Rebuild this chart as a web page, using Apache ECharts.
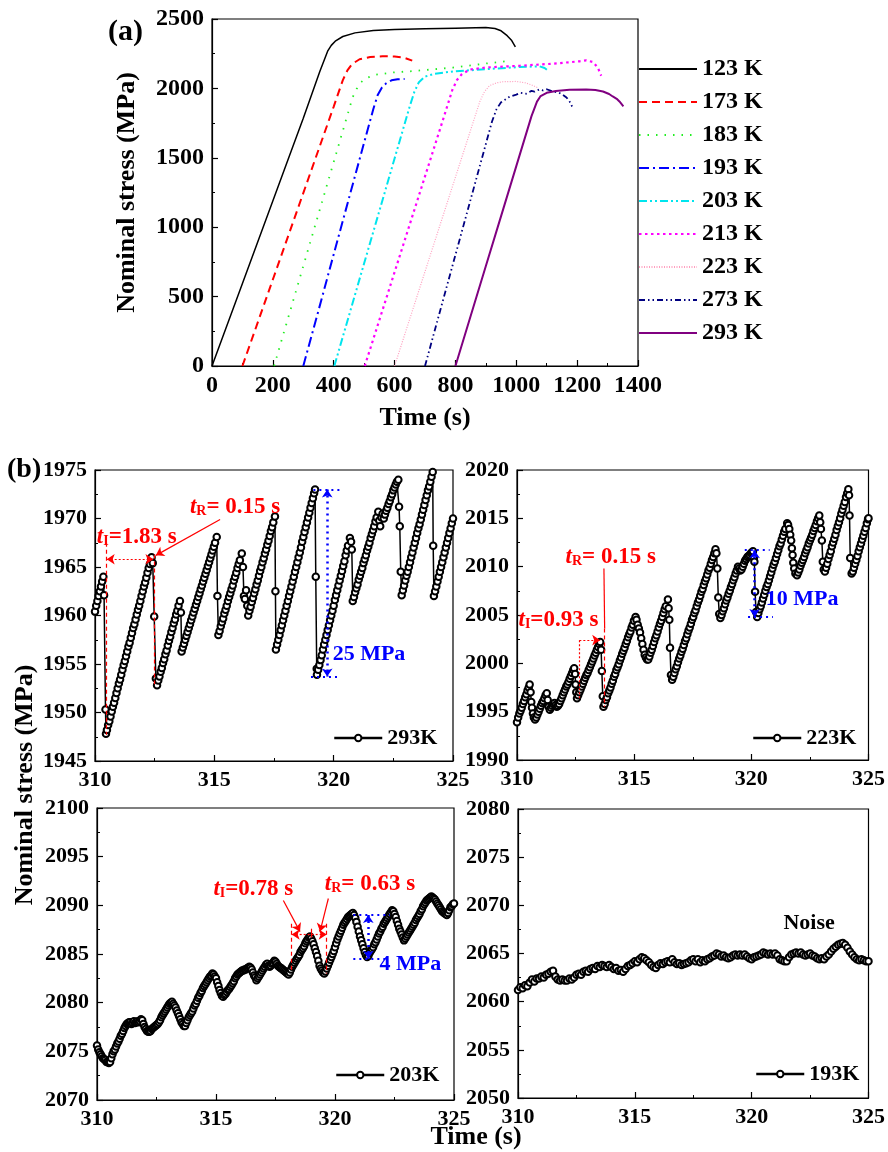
<!DOCTYPE html>
<html>
<head>
<meta charset="utf-8">
<script src="https://cdn.jsdelivr.net/npm/echarts@6/dist/echarts.min.js"></script>
<style>
html, body { margin: 0; padding: 0; background: #fff; }
#chart { width: 888px; height: 1152px; }
</style>
</head>
<body>
<div id="chart"></div>
<script>
// (a) nominal stress vs time, [time s, stress MPa]
var curve123 = [[0,0],[100,595],[185,1100],[250,1488],[300,1785],[354,2120],[380,2268],[392,2310],[405,2340],[430,2374],[470,2400],[530,2417],[600,2424],[700,2430],[800,2434],[900,2438],[930,2432],[950,2415],[970,2380],[985,2345],[997,2300]];
var curve173 = [[100,0],[200,623],[300,1246],[400,1869],[430,2060],[445,2130],[460,2175],[485,2210],[520,2226],[560,2232],[600,2230],[630,2222],[658,2200]];
var curve183 = [[204,0],[250,345],[300,720],[350,1095],[400,1470],[440,1770],[462,1935],[475,1995],[490,2045],[508,2075],[540,2099],[595,2115],[650,2123],[716,2135],[792,2150],[902,2180],[965,2195]];
var curve193 = [[300,0],[350,400],[400,805],[450,1208],[500,1610],[530,1850],[545,1955],[558,2005],[573,2038],[590,2058],[610,2066],[633,2067]];
var curve203 = [[402,0],[450,362],[500,740],[550,1117],[600,1495],[650,1872],[665,1975],[680,2045],[700,2085],[730,2105],[792,2122],[902,2139],[1011,2154],[1077,2159],[1093,2147],[1107,2123]];
var curve213 = [[502,0],[550,331],[600,676],[650,1021],[700,1366],[750,1711],[790,1990],[805,2060],[820,2100],[846,2135],[902,2151],[1011,2163],[1120,2178],[1208,2195],[1230,2202],[1252,2190],[1268,2150],[1279,2091]];
var curve223 = [[600,0],[650,340],[700,680],[750,1020],[800,1360],[850,1700],[880,1904],[895,1975],[912,2020],[935,2040],[956,2048],[1000,2050],[1030,2040],[1050,2025],[1071,2005]];
var curve273 = [[700,0],[750,400],[800,800],[850,1200],[900,1600],[920,1760],[935,1850],[950,1900],[978,1940],[1000,1955],[1015,1968],[1033,1962],[1050,1982],[1060,1976],[1075,1992],[1088,1985],[1100,1994],[1120,1978],[1140,1970],[1153,1954],[1165,1935],[1175,1906],[1186,1858]];
var curve293 = [[800,0],[850,360],[900,720],[950,1080],[1000,1440],[1050,1800],[1068,1905],[1080,1945],[1100,1968],[1130,1982],[1175,1990],[1230,1992],[1260,1988],[1285,1978],[1305,1960],[1317,1942],[1330,1925],[1339,1906],[1352,1870]];

// (b) close-ups, [time s, stress MPa]
var serr293 = [[310.00,1960.4],[310.05,1961.0],[310.10,1961.5],[310.15,1962.0],[310.20,1962.5],[310.25,1963.0],[310.30,1963.5],[310.35,1964.0],[310.38,1962.1],[310.44,1950.3],[310.46,1947.8],
[310.50,1948.2],[310.55,1948.7],[310.60,1949.1],[310.65,1949.6],[310.70,1950.1],[310.75,1950.6],[310.80,1951.0],[310.85,1951.5],[310.90,1952.0],[310.95,1952.5],[311.00,1953.0],[311.05,1953.4],[311.10,1953.9],[311.15,1954.4],[311.20,1954.9],[311.25,1955.3],[311.30,1955.8],[311.35,1956.3],[311.40,1956.8],[311.45,1957.2],[311.50,1957.7],[311.55,1958.2],[311.60,1958.7],[311.65,1959.1],[311.70,1959.6],[311.75,1960.1],[311.80,1960.6],[311.85,1961.0],[311.90,1961.5],[311.95,1962.0],[312.00,1962.5],[312.05,1963.0],[312.10,1963.4],[312.15,1963.9],[312.20,1964.4],[312.25,1964.9],[312.30,1965.3],[312.35,1965.8],[312.37,1966.0],
[312.42,1965.4],[312.48,1959.9],[312.55,1953.5],[312.60,1952.8],
[312.65,1953.3],[312.70,1953.7],[312.75,1954.2],[312.80,1954.6],[312.85,1955.1],[312.90,1955.5],[312.95,1956.0],[313.00,1956.4],[313.05,1956.9],[313.10,1957.4],[313.15,1957.8],[313.20,1958.3],[313.25,1958.7],[313.30,1959.2],[313.35,1959.6],[313.40,1960.1],[313.45,1960.5],[313.50,1961.0],[313.56,1961.5],
[313.60,1960.3],[313.63,1956.3],
[313.68,1956.7],[313.73,1957.1],[313.78,1957.5],[313.83,1957.9],[313.88,1958.3],[313.93,1958.7],[313.98,1959.1],[314.03,1959.5],[314.08,1959.9],[314.13,1960.3],[314.18,1960.7],[314.23,1961.1],[314.28,1961.5],[314.33,1961.9],[314.38,1962.3],[314.43,1962.7],[314.48,1963.1],[314.53,1963.5],[314.58,1963.9],[314.63,1964.3],[314.68,1964.7],[314.73,1965.1],[314.78,1965.5],[314.83,1965.9],[314.88,1966.3],[314.93,1966.7],[314.98,1967.1],[315.03,1967.5],[315.10,1968.1],
[315.13,1962.0],[315.17,1958.0],
[315.22,1958.4],[315.27,1958.9],[315.32,1959.3],[315.37,1959.7],[315.42,1960.2],[315.47,1960.6],[315.52,1961.0],[315.57,1961.5],[315.62,1961.9],[315.67,1962.3],[315.72,1962.7],[315.77,1963.1],[315.82,1963.6],[315.87,1964.0],[315.92,1964.4],[315.97,1964.9],[316.02,1965.3],[316.07,1965.7],[316.15,1966.4],
[316.20,1965.0],[316.24,1962.0],[316.28,1961.7],[316.33,1962.6],[316.38,1961.0],[316.42,1960.0],
[316.47,1960.5],[316.52,1960.9],[316.57,1961.4],[316.62,1961.8],[316.67,1962.3],[316.72,1962.7],[316.77,1963.2],[316.82,1963.6],[316.87,1964.1],[316.92,1964.6],[316.97,1965.0],[317.02,1965.5],[317.07,1965.9],[317.12,1966.4],[317.17,1966.8],[317.22,1967.3],[317.27,1967.7],[317.32,1968.2],[317.37,1968.7],[317.42,1969.1],[317.47,1969.6],[317.54,1970.2],
[317.56,1962.5],[317.58,1956.5],
[317.63,1957.0],[317.68,1957.5],[317.73,1958.0],[317.78,1958.5],[317.83,1959.0],[317.88,1959.5],[317.93,1960.0],[317.98,1960.5],[318.03,1961.0],[318.08,1961.5],[318.13,1962.0],[318.18,1962.5],[318.23,1963.0],[318.28,1963.5],[318.33,1964.0],[318.38,1964.5],[318.43,1965.0],[318.48,1965.5],[318.53,1966.0],[318.58,1966.5],[318.63,1967.0],[318.68,1967.6],[318.73,1968.1],[318.78,1968.6],[318.83,1969.1],[318.88,1969.6],[318.93,1970.1],[318.98,1970.6],[319.03,1971.1],[319.08,1971.6],[319.13,1972.1],[319.18,1972.6],[319.22,1973.0],
[319.25,1964.0],[319.29,1954.5],[319.30,1953.9],
[319.35,1954.4],[319.40,1954.9],[319.45,1955.4],[319.50,1955.9],[319.55,1956.5],[319.60,1957.0],[319.65,1957.5],[319.70,1958.0],[319.75,1958.5],[319.80,1959.0],[319.85,1959.5],[319.90,1960.0],[319.95,1960.5],[320.00,1961.0],[320.05,1961.6],[320.10,1962.1],[320.15,1962.6],[320.20,1963.1],[320.25,1963.6],[320.30,1964.1],[320.35,1964.6],[320.40,1965.1],[320.45,1965.6],[320.50,1966.2],[320.55,1966.7],[320.60,1967.2],[320.68,1968.0],
[320.73,1967.6],[320.76,1966.8],[320.80,1961.5],
[320.85,1961.9],[320.90,1962.4],[320.95,1962.8],[321.00,1963.2],[321.05,1963.7],[321.10,1964.1],[321.15,1964.5],[321.20,1964.9],[321.25,1965.4],[321.30,1965.8],[321.35,1966.2],[321.40,1966.7],[321.45,1967.1],[321.50,1967.5],[321.55,1968.0],[321.60,1968.4],[321.65,1968.8],[321.70,1969.2],[321.75,1969.7],[321.80,1970.1],[321.87,1970.7],
[321.91,1969.8],[321.95,1969.2],[322.00,1970.1],[322.05,1970.5],[322.10,1970.0],[322.15,1970.4],[322.20,1970.8],[322.25,1971.1],[322.30,1971.5],[322.35,1971.8],[322.40,1972.2],[322.45,1972.5],[322.50,1972.9],[322.55,1973.2],[322.60,1973.5],[322.65,1973.8],[322.71,1974.0],
[322.74,1971.2],[322.77,1969.2],[322.81,1964.5],[322.85,1962.1],
[322.90,1962.6],[322.95,1963.1],[323.00,1963.6],[323.05,1964.1],[323.10,1964.5],[323.15,1965.0],[323.20,1965.5],[323.25,1966.0],[323.30,1966.5],[323.35,1967.0],[323.40,1967.5],[323.45,1968.0],[323.50,1968.5],[323.55,1969.0],[323.60,1969.4],[323.65,1969.9],[323.70,1970.4],[323.75,1970.9],[323.80,1971.4],[323.85,1971.9],[323.90,1972.4],[323.95,1972.9],[324.00,1973.3],[324.05,1973.8],[324.10,1974.3],[324.15,1974.8],
[324.17,1967.2],[324.20,1962.0],
[324.25,1962.5],[324.30,1963.0],[324.35,1963.5],[324.40,1964.0],[324.45,1964.5],[324.50,1965.0],[324.55,1965.5],[324.60,1966.0],[324.65,1966.5],[324.70,1967.0],[324.75,1967.5],[324.80,1968.0],[324.85,1968.5],[324.90,1969.0],[324.95,1969.5],[325.00,1970.0]];

var serr223 = [[310.00,1993.9],[310.05,1994.4],[310.10,1994.8],[310.15,1995.1],[310.20,1995.4],[310.25,1995.8],[310.30,1996.1],[310.35,1996.5],[310.40,1996.8],[310.45,1997.2],[310.50,1997.5],[310.54,1997.8],
[310.58,1997.0],[310.61,1996.0],[310.64,1995.4],[310.68,1994.8],[310.72,1994.4],[310.77,1994.2],
[310.82,1994.4],[310.87,1994.7],[310.92,1995.0],[310.97,1995.3],[311.02,1995.6],[311.07,1995.9],[311.12,1996.1],[311.17,1996.4],[311.22,1996.7],[311.27,1996.9],
[311.31,1996.2],[311.35,1995.5],[311.40,1995.2],[311.45,1995.4],[311.50,1995.6],[311.55,1995.8],[311.60,1995.9],[311.65,1995.7],[311.70,1995.5],[311.75,1995.6],[311.80,1995.8],
[311.85,1996.1],[311.90,1996.4],[311.95,1996.7],[312.00,1997.0],[312.05,1997.3],[312.10,1997.6],[312.15,1997.8],[312.20,1998.1],[312.25,1998.4],[312.30,1998.7],[312.35,1999.0],[312.40,1999.3],[312.44,1999.5],
[312.48,1998.9],[312.50,1997.8],[312.53,1997.0],[312.56,1996.4],
[312.61,1996.7],[312.66,1997.0],[312.71,1997.3],[312.76,1997.6],[312.81,1997.9],[312.86,1998.2],[312.91,1998.5],[312.96,1998.8],[313.01,1999.0],[313.06,1999.3],[313.11,1999.6],[313.16,1999.9],[313.21,2000.2],[313.26,2000.5],[313.31,2000.8],[313.36,2001.1],[313.41,2001.4],[313.46,2001.7],[313.51,2002.0],[313.55,2002.2],
[313.59,2001.4],[313.62,1999.2],[313.66,1996.6],[313.69,1995.5],
[313.74,1995.8],[313.79,1996.2],[313.84,1996.5],[313.89,1996.9],[313.94,1997.2],[313.99,1997.5],[314.04,1997.9],[314.09,1998.2],[314.14,1998.6],[314.19,1998.9],[314.24,1999.3],[314.29,1999.6],[314.34,1999.9],[314.39,2000.3],[314.44,2000.6],[314.49,2001.0],[314.54,2001.3],[314.59,2001.6],[314.64,2002.0],[314.69,2002.3],[314.74,2002.7],[314.79,2003.0],[314.84,2003.3],[314.89,2003.7],[314.94,2004.0],[314.99,2004.4],[315.06,2004.8],
[315.10,2004.5],[315.15,2004.0],[315.20,2003.6],[315.25,2003.2],[315.30,2002.6],[315.35,2002.0],[315.40,2001.4],[315.45,2000.9],[315.50,2000.6],[315.55,2000.4],[315.60,2000.4],[315.65,2000.7],
[315.70,2001.1],[315.75,2001.4],[315.80,2001.8],[315.85,2002.2],[315.90,2002.6],[315.95,2002.9],[316.00,2003.3],[316.05,2003.7],[316.10,2004.1],[316.15,2004.4],[316.20,2004.8],[316.25,2005.2],[316.30,2005.6],[316.35,2005.9],[316.44,2006.6],
[316.47,2005.7],[316.50,2004.5],[316.53,2001.6],[316.57,1998.8],[316.62,1998.3],
[316.67,1998.6],[316.72,1999.0],[316.77,1999.4],[316.82,1999.7],[316.87,2000.1],[316.92,2000.5],[316.97,2000.8],[317.02,2001.2],[317.07,2001.5],[317.12,2001.9],[317.17,2002.3],[317.22,2002.6],[317.27,2003.0],[317.32,2003.4],[317.37,2003.7],[317.42,2004.1],[317.47,2004.5],[317.52,2004.8],[317.57,2005.2],[317.62,2005.5],[317.67,2005.9],[317.72,2006.3],[317.77,2006.6],[317.82,2007.0],[317.87,2007.4],[317.92,2007.7],[317.97,2008.1],[318.02,2008.5],[318.07,2008.8],[318.12,2009.2],[318.17,2009.6],[318.22,2009.9],[318.27,2010.3],[318.32,2010.7],[318.37,2011.0],[318.42,2011.4],[318.47,2011.8],
[318.51,2011.4],[318.55,2009.8],[318.59,2006.8],[318.63,2005.1],[318.68,2004.7],
[318.73,2005.0],[318.78,2005.4],[318.83,2005.7],[318.88,2006.1],[318.93,2006.5],[318.98,2006.8],[319.03,2007.2],[319.08,2007.5],[319.13,2007.9],[319.18,2008.2],[319.23,2008.6],[319.28,2008.9],[319.33,2009.3],[319.38,2009.6],[319.43,2010.0],
[319.48,2009.8],[319.53,2009.6],[319.58,2009.7],[319.63,2010.0],[319.68,2010.3],[319.73,2010.6],[319.78,2010.8],[319.83,2011.0],[319.88,2011.1],[319.93,2011.2],[319.98,2011.4],[320.03,2011.5],[320.07,2011.6],
[320.11,2010.9],[320.13,2010.5],[320.16,2007.4],[320.20,2005.3],[320.25,2004.8],
[320.30,2005.2],[320.35,2005.6],[320.40,2005.9],[320.45,2006.3],[320.50,2006.7],[320.55,2007.1],[320.60,2007.5],[320.65,2007.9],[320.70,2008.2],[320.75,2008.6],[320.80,2009.0],[320.85,2009.4],[320.90,2009.8],[320.95,2010.2],[321.00,2010.5],[321.05,2010.9],[321.10,2011.3],[321.15,2011.7],[321.20,2012.1],[321.25,2012.4],[321.30,2012.8],[321.35,2013.2],[321.40,2013.6],[321.45,2013.9],[321.53,2014.5],
[321.57,2014.3],[321.62,2013.9],[321.66,2013.3],[321.70,2012.7],[321.73,2011.9],[321.76,2011.2],[321.79,2010.4],[321.83,2009.8],[321.88,2009.3],[321.95,2009.1],
[322.00,2009.4],[322.05,2009.7],[322.10,2010.1],[322.15,2010.4],[322.20,2010.7],[322.25,2011.0],[322.30,2011.4],[322.35,2011.7],[322.40,2012.0],[322.45,2012.4],[322.50,2012.7],[322.55,2013.0],[322.60,2013.3],[322.65,2013.7],[322.70,2014.0],[322.75,2014.3],[322.80,2014.7],[322.85,2015.0],[322.90,2015.3],
[322.94,2014.6],[322.97,2013.9],[323.01,2012.7],[323.05,2010.5],[323.09,2009.7],[323.14,2009.5],
[323.19,2009.9],[323.24,2010.3],[323.29,2010.8],[323.34,2011.2],[323.39,2011.6],[323.44,2012.1],[323.49,2012.5],[323.54,2012.9],[323.59,2013.3],[323.64,2013.8],[323.69,2014.2],[323.74,2014.6],[323.79,2015.0],[323.84,2015.5],[323.89,2015.9],[323.94,2016.3],[323.99,2016.7],[324.04,2017.2],[324.09,2017.6],[324.14,2018.0],
[324.17,2017.4],[324.19,2015.3],[324.22,2010.9],[324.28,2009.3],
[324.33,2009.5],[324.38,2009.9],[324.43,2010.3],[324.48,2010.7],[324.53,2011.1],[324.58,2011.6],[324.63,2012.0],[324.68,2012.4],[324.73,2012.8],[324.78,2013.2],[324.83,2013.6],[324.88,2014.0],[324.93,2014.5],[324.98,2014.9],[325.00,2015.0]];

var serr203 = [[310.00,2075.6],[310.05,2075.2],[310.10,2074.9],[310.15,2074.7],[310.20,2074.5],[310.25,2074.3],[310.30,2074.2],[310.35,2074.1],[310.40,2073.9],[310.45,2073.9],[310.50,2073.8],[310.55,2073.9],[310.60,2074.3],[310.65,2074.7],[310.70,2075.0],[310.75,2075.2],[310.80,2075.5],[310.85,2075.8],[310.90,2076.0],[310.95,2076.3],[311.00,2076.6],[311.05,2076.8],[311.10,2077.1],[311.15,2077.4],[311.20,2077.6],[311.25,2077.8],[311.30,2077.9],[311.35,2078.0],[311.40,2078.0],[311.45,2077.8],[311.50,2077.9],[311.55,2078.1],[311.60,2077.9],[311.65,2078.0],[311.70,2078.1],[311.75,2078.0],[311.80,2078.1],[311.85,2078.3],[311.90,2078.2],[311.95,2077.8],
[312.00,2077.5],[312.05,2077.3],[312.10,2077.1],[312.15,2077.0],[312.20,2077.0],[312.25,2077.1],[312.30,2077.3],[312.35,2077.4],[312.40,2077.5],[312.45,2077.6],[312.50,2077.7],[312.55,2077.8],[312.60,2078.0],[312.65,2078.2],[312.70,2078.5],[312.75,2078.7],[312.80,2078.9],[312.85,2079.1],[312.90,2079.3],[312.95,2079.5],[313.00,2079.7],[313.05,2079.9],[313.10,2080.0],[313.15,2080.1],[313.20,2079.9],[313.25,2079.7],[313.30,2079.5],[313.35,2079.2],[313.40,2078.9],[313.45,2078.6],[313.50,2078.3],[313.55,2078.0],[313.60,2077.8],[313.65,2077.6],[313.70,2077.6],[313.75,2077.9],[313.80,2078.2],[313.85,2078.5],[313.90,2078.7],[313.95,2078.9],
[314.00,2079.1],[314.05,2079.4],[314.10,2079.7],[314.15,2079.9],[314.20,2080.2],[314.25,2080.5],[314.30,2080.7],[314.35,2081.0],[314.40,2081.2],[314.45,2081.5],[314.50,2081.7],[314.55,2081.9],[314.60,2082.1],[314.65,2082.3],[314.70,2082.5],[314.75,2082.7],[314.80,2082.8],[314.85,2083.0],[314.90,2082.9],[314.95,2082.7],[315.00,2082.5],[315.05,2082.1],[315.10,2081.7],[315.15,2081.3],[315.20,2081.0],[315.25,2080.7],[315.30,2080.6],[315.35,2080.8],[315.40,2080.9],[315.45,2081.1],[315.50,2081.3],[315.55,2081.4],[315.60,2081.6],[315.65,2081.8],[315.70,2082.0],[315.75,2082.2],[315.80,2082.5],[315.85,2082.7],[315.90,2082.9],[315.95,2083.0],
[316.00,2083.1],[316.05,2083.2],[316.10,2083.3],[316.15,2083.3],[316.20,2083.4],[316.25,2083.4],[316.30,2083.5],[316.35,2083.6],[316.40,2083.7],[316.45,2083.6],[316.50,2083.4],[316.55,2083.1],[316.60,2082.8],[316.65,2082.6],[316.70,2082.3],[316.75,2082.5],[316.80,2082.7],[316.85,2082.9],[316.90,2083.1],[316.95,2083.3],[317.00,2083.5],[317.05,2083.7],[317.10,2083.9],[317.15,2084.0],[317.20,2083.8],[317.25,2083.7],[317.30,2083.8],[317.35,2084.0],[317.40,2084.1],[317.45,2084.3],[317.50,2084.2],[317.55,2084.0],[317.60,2083.8],[317.65,2083.7],[317.70,2083.6],[317.75,2083.5],[317.80,2083.4],[317.85,2083.3],[317.90,2083.2],[317.95,2083.1],
[318.00,2083.0],[318.05,2082.9],[318.10,2083.1],[318.15,2083.4],[318.20,2083.7],[318.25,2083.9],[318.30,2084.1],[318.35,2084.3],[318.40,2084.5],[318.45,2084.7],[318.50,2084.9],[318.55,2085.2],[318.60,2085.4],[318.65,2085.6],[318.70,2085.8],[318.75,2086.1],[318.80,2086.3],[318.85,2086.5],[318.90,2086.7],[318.95,2086.8],[319.00,2086.6],[319.05,2086.3],[319.10,2086.0],[319.15,2085.6],[319.20,2085.2],[319.25,2084.8],[319.30,2084.3],[319.35,2083.8],[319.40,2083.5],[319.45,2083.3],[319.50,2083.1],[319.55,2083.0],[319.60,2083.2],[319.65,2083.5],[319.70,2083.8],[319.75,2084.1],[319.80,2084.4],[319.85,2084.7],[319.90,2085.0],[319.95,2085.3],
[320.00,2085.7],[320.05,2086.1],[320.10,2086.5],[320.15,2086.8],[320.20,2087.1],[320.25,2087.4],[320.30,2087.7],[320.35,2088.0],[320.40,2088.2],[320.45,2088.4],[320.50,2088.6],[320.55,2088.8],[320.60,2088.9],[320.65,2089.0],[320.70,2089.1],[320.75,2089.2],[320.80,2089.0],[320.85,2088.7],[320.90,2088.3],[320.95,2087.8],[321.00,2087.3],[321.05,2086.8],[321.10,2086.4],[321.15,2086.0],[321.20,2085.6],[321.25,2085.2],[321.30,2084.9],[321.35,2084.7],[321.40,2084.8],[321.45,2085.1],[321.50,2085.3],[321.55,2085.5],[321.60,2085.7],[321.65,2086.0],[321.70,2086.2],[321.75,2086.5],[321.80,2086.8],[321.85,2087.1],[321.90,2087.3],[321.95,2087.6],
[322.00,2087.8],[322.05,2088.1],[322.10,2088.3],[322.15,2088.5],[322.20,2088.7],[322.25,2088.9],[322.30,2089.1],[322.35,2089.3],[322.40,2089.5],[322.45,2089.4],[322.50,2089.1],[322.55,2088.8],[322.60,2088.4],[322.65,2088.0],[322.70,2087.6],[322.75,2087.3],[322.80,2087.0],[322.85,2086.7],[322.90,2086.4],[322.95,2086.6],[323.00,2086.8],[323.05,2087.0],[323.10,2087.2],[323.15,2087.4],[323.20,2087.6],[323.25,2087.8],[323.30,2088.0],[323.35,2088.2],[323.40,2088.5],[323.45,2088.7],[323.50,2088.9],[323.55,2089.1],[323.60,2089.4],[323.65,2089.6],[323.70,2089.9],[323.75,2090.1],[323.80,2090.3],[323.85,2090.5],[323.90,2090.6],[323.95,2090.7],
[324.00,2090.8],[324.05,2090.9],[324.10,2090.8],[324.15,2090.7],[324.20,2090.6],[324.25,2090.4],[324.30,2090.2],[324.35,2090.0],[324.40,2089.8],[324.45,2089.6],[324.50,2089.4],[324.55,2089.3],[324.60,2089.2],[324.65,2089.1],[324.70,2089.0],[324.75,2089.2],[324.80,2089.5],[324.85,2089.8],[324.90,2089.9],[324.95,2090.1],[325.00,2090.2]];

var serr193 = [[310.0,2061.2],[310.1,2061.5],[310.2,2061.4],[310.3,2061.7],[310.4,2061.6],[310.5,2062.0],[310.6,2062.3],[310.7,2062.1],[310.8,2062.4],[310.9,2062.4],[311.0,2062.6],[311.1,2062.5],[311.2,2062.8],[311.3,2062.9],[311.4,2063.1],[311.5,2063.2],[311.6,2062.6],[311.7,2062.3],[311.8,2062.2],[311.9,2062.3],
[312.0,2062.2],[312.1,2062.2],[312.2,2062.4],[312.3,2062.3],[312.4,2062.5],[312.5,2062.8],[312.6,2062.9],[312.7,2062.8],[312.8,2063.1],[312.9,2063.2],[313.0,2063.1],[313.1,2063.4],[313.2,2063.5],[313.3,2063.4],[313.4,2063.7],[313.5,2063.6],[313.6,2063.8],[313.7,2063.7],[313.8,2063.6],[313.9,2063.8],
[314.0,2063.6],[314.1,2063.4],[314.2,2063.5],[314.3,2063.2],[314.4,2063.3],[314.5,2063.1],[314.6,2063.4],[314.7,2063.7],[314.8,2063.8],[314.9,2064.0],[315.0,2064.2],[315.1,2064.1],[315.2,2064.4],[315.3,2064.6],[315.4,2064.5],[315.5,2064.3],[315.6,2064.1],[315.7,2063.8],[315.8,2063.6],[315.9,2063.5],
[316.0,2063.8],[316.1,2064.0],[316.2,2063.9],[316.3,2064.1],[316.4,2064.2],[316.5,2064.1],[316.6,2064.4],[316.7,2064.1],[316.8,2063.9],[316.9,2064.0],[317.0,2063.8],[317.1,2063.9],[317.2,2064.0],[317.3,2064.1],[317.4,2064.3],[317.5,2064.4],[317.6,2064.2],[317.7,2064.4],[317.8,2064.1],[317.9,2064.3],
[318.0,2064.2],[318.1,2064.4],[318.2,2064.5],[318.3,2064.7],[318.4,2064.8],[318.5,2065.0],[318.6,2064.9],[318.7,2064.7],[318.8,2064.8],[318.9,2064.6],[319.0,2064.5],[319.1,2064.6],[319.2,2064.8],[319.3,2064.9],[319.4,2064.8],[319.5,2064.9],[319.6,2064.8],[319.7,2064.9],[319.8,2064.7],[319.9,2064.5],
[320.0,2064.4],[320.1,2064.6],[320.2,2064.7],[320.3,2064.8],[320.4,2064.9],[320.5,2065.1],[320.6,2065.0],[320.7,2064.9],[320.8,2065.0],[320.9,2064.9],[321.0,2065.0],[321.1,2064.8],[321.2,2064.4],[321.3,2064.3],[321.4,2064.2],[321.5,2064.2],[321.6,2064.6],[321.7,2064.9],[321.8,2065.0],[321.9,2065.1],
[322.0,2065.0],[322.1,2065.1],[322.2,2064.9],[322.3,2064.8],[322.4,2064.9],[322.5,2065.0],[322.6,2064.8],[322.7,2064.7],[322.8,2064.5],[322.9,2064.4],[323.0,2064.5],[323.1,2064.4],[323.2,2064.7],[323.3,2064.9],[323.4,2065.2],[323.5,2065.5],[323.6,2065.7],[323.7,2065.9],[323.8,2066.0],[323.9,2066.1],
[324.0,2065.9],[324.1,2065.6],[324.2,2065.2],[324.3,2064.9],[324.4,2064.6],[324.5,2064.4],[324.6,2064.3],[324.7,2064.4],[324.8,2064.3],[324.9,2064.2],[325.0,2064.2]];

var FONT = "'Liberation Serif', 'Times New Roman', serif";
var RED = '#ff0000', BLUE = '#0000ff';

// annotation helpers (data coordinates)
function seg(a, b, color, dash, width, s0, s1) {
    return [
        { coord: a, symbol: s0 || 'none', lineStyle: { color: color, type: dash, width: width } },
        { coord: b, symbol: s1 || 'none' }
    ];
}
function richFor(color) {
    return {
        i: { fontStyle: 'italic', fontWeight: 'bold', fontSize: 23, fontFamily: FONT, color: color },
        s: { fontWeight: 'bold', fontSize: 14, lineHeight: 14, fontFamily: FONT, color: color, verticalAlign: 'bottom', padding: [16, 0, 0, 0] },
        n: { fontWeight: 'bold', fontSize: 23, fontFamily: FONT, color: color }
    };
}
function note(pos, text, color, size) {
    return {
        coord: pos, symbol: 'circle', symbolSize: 0, itemStyle: { color: 'rgba(0,0,0,0)' },
        label: { show: true, position: 'inside', formatter: text, color: color, fontFamily: FONT, fontWeight: 'bold', fontSize: size || 22, rich: richFor(color) }
    };
}

var lines293 = [
    seg([310.49, 1967.5], [310.49, 1947.7], RED, [4, 3], 1.2),
    seg([310.49, 1965.8], [312.45, 1965.8], RED, [2, 2], 1.2, 'arrow', 'arrow'),
    seg([312.49, 1966.3], [312.49, 1952.9], RED, [4, 3], 1.2),
    seg([315.24, 1969.9], [312.55, 1966.2], RED, 'solid', 1.2, 'none', 'arrow'),
    seg([319.15, 1973.0], [320.27, 1973.0], BLUE, [2, 4], 2),
    seg([319.05, 1953.7], [320.15, 1953.7], BLUE, [2, 4], 2),
    seg([319.73, 1973.0], [319.73, 1953.7], BLUE, [2, 4], 2.5, 'arrow', 'arrow')
];
var notes293 = [
    note([311.75, 1968.1], '{i|t}{s|I}{n|=1.83 s}', RED),
    note([315.87, 1971.2], '{i|t}{s|R}{n|= 0.15 s}', RED),
    note([321.48, 1956.0], '25 MPa', BLUE)
];
var lines223 = [
    seg([312.66, 2002.4], [312.66, 1996.4], RED, [2, 2], 1.2),
    seg([312.66, 2002.4], [313.55, 2002.4], RED, [2, 2], 1.2, 'none', 'arrow'),
    seg([313.74, 2003.6], [313.74, 1995.5], RED, [4, 3], 1.2),
    seg([313.71, 2009.8], [313.74, 2003.6], RED, 'solid', 1.2),
    seg([319.72, 2011.7], [320.78, 2011.7], BLUE, [2, 4], 2),
    seg([319.86, 2004.8], [320.92, 2004.8], BLUE, [2, 4], 2),
    seg([320.14, 2011.7], [320.14, 2004.8], BLUE, [2, 4], 2.5, 'arrow', 'arrow')
];
var notes223 = [
    note([311.77, 2004.5], '{i|t}{s|I}{n|=0.93 s}', RED),
    note([314.0, 2011.0], '{i|t}{s|R}{n|= 0.15 s}', RED),
    note([322.17, 2006.6], '10 MPa', BLUE)
];
var lines203 = [
    seg([318.18, 2088.1], [318.18, 2083.3], RED, [4, 3], 1.2),
    seg([319.65, 2088.1], [319.65, 2083.0], RED, [4, 3], 1.2),
    seg([318.18, 2087.0], [319.65, 2087.0], RED, [2, 2], 1.2, 'arrow', 'arrow'),
    seg([319.0, 2087.6], [319.0, 2086.7], RED, 'solid', 1.2),
    seg([317.83, 2090.5], [318.53, 2087.3], RED, 'solid', 1.2, 'none', 'arrow'),
    seg([319.72, 2090.7], [319.37, 2087.3], RED, 'solid', 1.2, 'none', 'arrow'),
    seg([320.77, 2089.0], [322.31, 2089.0], BLUE, [2, 4], 2),
    seg([320.77, 2084.5], [322.24, 2084.5], BLUE, [2, 4], 2),
    seg([321.40, 2089.0], [321.40, 2084.5], BLUE, [2, 4], 2.5, 'arrow', 'arrow')
];
var notes203 = [
    note([316.57, 2091.7], '{i|t}{s|I}{n|=0.78 s}', RED),
    note([321.47, 2092.2], '{i|t}{s|R}{n|= 0.63 s}', RED),
    note([323.17, 2083.9], '4 MPa', BLUE)
];
var notes193 = [
    note([322.46, 2068.1], 'Noise', '#000')
];

var chart = echarts.init(document.getElementById('chart'));

function axisBase(gridIndex, min, max, interval, fontSize) {
    return {
        type: 'value', gridIndex: gridIndex, min: min, max: max, interval: interval,
        axisLine: { show: true, onZero: false, lineStyle: { color: '#000', width: 1.2 } },
        axisTick: { show: true, inside: true, length: 6, lineStyle: { color: '#000', width: 1.2 } },
        minorTick: { show: true, splitNumber: 2, length: 3, lineStyle: { color: '#000', width: 1 } },
        splitLine: { show: false },
        axisLabel: {
            color: '#000', fontFamily: FONT, fontWeight: 'bold', fontSize: fontSize, margin: 8,
            formatter: function (v) { return String(v); }
        }
    };
}

function topSeries(name, data, color, type, width) {
    return {
        name: name, type: 'line', xAxisIndex: 0, yAxisIndex: 0, data: data,
        symbol: 'none', showSymbol: false, silent: true,
        lineStyle: { color: color, type: type, width: width },
        itemStyle: { color: color }
    };
}
function zoomSeries(name, idx, data, lines, notes) {
    return {
        name: name, type: 'line', xAxisIndex: idx, yAxisIndex: idx, data: data,
        symbol: 'emptyCircle', symbolSize: 6.5, showSymbol: true, showAllSymbol: true, silent: true,
        lineStyle: { color: '#000', width: 1.5 },
        itemStyle: { color: '#000', borderWidth: 1 },
        markLine: { silent: true, symbolSize: 8, label: { show: false }, animation: false, data: lines || [] },
        markPoint: { silent: true, animation: false, data: notes || [] }
    };
}
function zoomLegend(name, left, top) {
    return {
        data: [name], left: left, top: top, padding: 0, selectedMode: false,
        itemWidth: 48, itemHeight: 8,
        lineStyle: { width: 2.5 },
        textStyle: { color: '#000', fontFamily: FONT, fontWeight: 'bold', fontSize: 22, lineHeight: 24 }
    };
}

var option = {
    animation: false,
    backgroundColor: '#fff',
    grid: [
        { left: 212, right: 250, top: 19, bottom: 786, show: true, borderColor: '#000', borderWidth: 1.2 },
        { left: 95, top: 470, width: 358, height: 291, show: true, borderColor: '#000', borderWidth: 1.2 },
        { left: 517, top: 470, width: 353, height: 290, show: true, borderColor: '#000', borderWidth: 1.2 },
        { left: 97, top: 808, width: 357, height: 292, show: true, borderColor: '#000', borderWidth: 1.2 },
        { left: 518, top: 809, width: 355, height: 289, show: true, borderColor: '#000', borderWidth: 1.2 }
    ],
    xAxis: [
        Object.assign(axisBase(0, 0, 1400, 200, 24), {
            name: 'Time (s)', nameLocation: 'middle', nameGap: 39,
            nameTextStyle: { color: '#000', fontFamily: FONT, fontWeight: 'bold', fontSize: 26 }
        }),
        axisBase(1, 310, 325, 5, 22),
        axisBase(2, 310, 325, 5, 22),
        axisBase(3, 310, 325, 5, 22),
        axisBase(4, 310, 325, 5, 22)
    ],
    yAxis: [
        Object.assign(axisBase(0, 0, 2500, 500, 24), {
            name: 'Nominal stress (MPa)', nameLocation: 'middle', nameGap: 72,
            nameTextStyle: { color: '#000', fontFamily: FONT, fontWeight: 'bold', fontSize: 26 }
        }),
        axisBase(1, 1945, 1975, 5, 22),
        axisBase(2, 1990, 2020, 5, 22),
        axisBase(3, 2070, 2100, 5, 22),
        axisBase(4, 2050, 2080, 5, 22)
    ],
    legend: [
        {
            data: ['123 K', '173 K', '183 K', '193 K', '203 K', '213 K', '223 K', '273 K', '293 K'],
            orient: 'vertical', left: 638, top: 57, padding: 0, selectedMode: false,
            itemWidth: 58, itemHeight: 14, itemGap: 9,
            itemStyle: { opacity: 0 },
            textStyle: { color: '#000', fontFamily: FONT, fontWeight: 'bold', fontSize: 24, lineHeight: 24 }
        },
        zoomLegend('293K', 333, 726),
        zoomLegend('223K', 752, 726),
        zoomLegend('203K', 335, 1063),
        zoomLegend('193K', 755, 1062)
    ],
    graphic: [
        { type: 'text', left: 108, top: 17, style: { text: '(a)', fill: '#000', font: 'bold 30px ' + FONT } },
        { type: 'text', left: 7, top: 456, style: { text: '(b)', fill: '#000', font: 'bold 28px ' + FONT } },
        { type: 'text', x: 25, y: 785, rotation: Math.PI / 2, style: { text: 'Nominal stress (MPa)', fill: '#000', font: 'bold 26px ' + FONT, align: 'center', verticalAlign: 'middle' } },
        { type: 'text', x: 476, y: 1137, style: { text: 'Time (s)', fill: '#000', font: 'bold 26px ' + FONT, align: 'center', verticalAlign: 'middle' } }
    ],
    series: [
        topSeries('123 K', curve123, '#000000', 'solid', 1.5),
        topSeries('173 K', curve173, '#ff0000', [8, 5], 2),
        topSeries('183 K', curve183, '#22ee22', [1.5, 7], 1.8),
        topSeries('193 K', curve193, '#0000ff', [10, 4, 2, 4], 2),
        topSeries('203 K', curve203, '#00e5ee', [8, 3, 2, 3, 2, 3], 2),
        topSeries('213 K', curve213, '#ff00ff', [2.5, 3.5], 2.2),
        topSeries('223 K', curve223, '#ff9fbf', [1, 1.5], 1.2),
        topSeries('273 K', curve273, '#000080', [6, 3, 1.5, 3, 1.5, 3], 1.8),
        topSeries('293 K', curve293, '#800080', 'solid', 2),
        zoomSeries('293K', 1, serr293, lines293, notes293),
        zoomSeries('223K', 2, serr223, lines223, notes223),
        zoomSeries('203K', 3, serr203, lines203, notes203),
        zoomSeries('193K', 4, serr193, [], notes193)
    ]
};
chart.setOption(option);
window.onresize = chart.resize;
</script>
</body>
</html>
